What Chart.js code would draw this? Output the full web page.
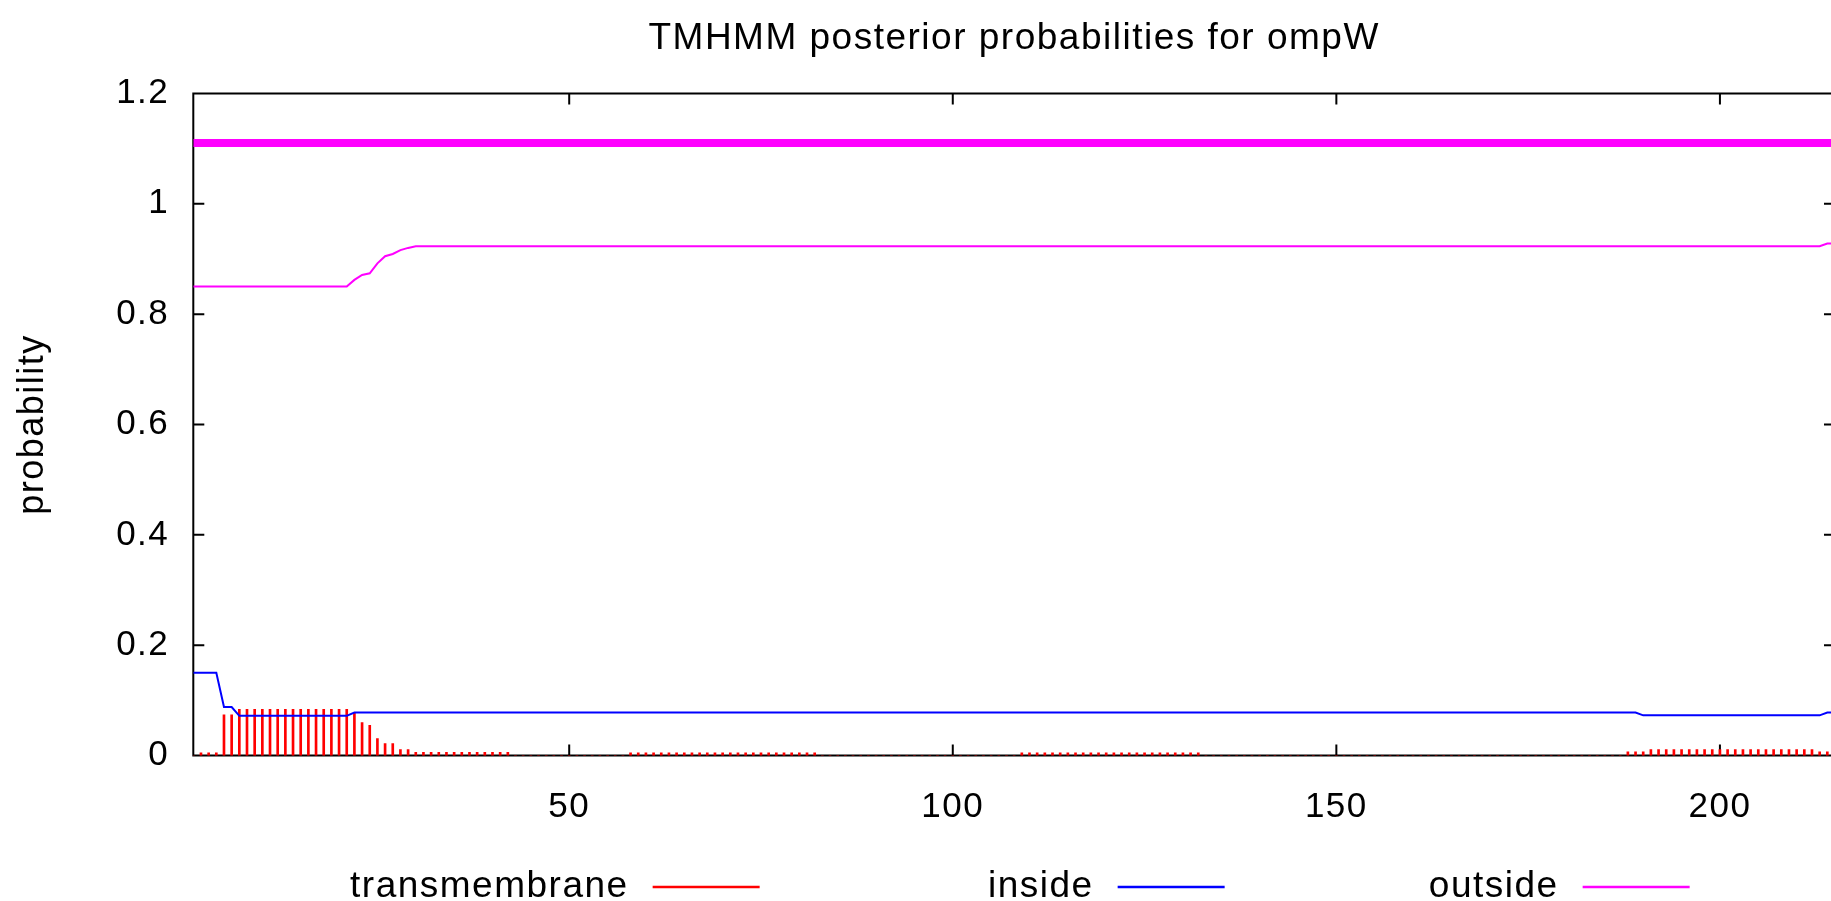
<!DOCTYPE html>
<html>
<head>
<meta charset="utf-8">
<script src="https://cdn.jsdelivr.net/npm/chart.js@4.4.1/dist/chart.umd.min.js"></script>
<style>
html,body{margin:0;padding:0;background:#fff;overflow:hidden;width:1831px;height:901px}
#wrap{position:relative;width:1831px;height:901px;overflow:hidden;background:#fff}
canvas{display:block}
</style>
</head>
<body>
<div id="wrap"><canvas id="c" width="1838" height="901"></canvas></div>
<script>
const titleText = 'TMHMM posterior probabilities for ompW';
const yAxisTitle = 'probability';
const seriesNames = ['transmembrane', 'inside', 'outside'];

// residue positions
const positions = [
  1,2,3,4,5,6,7,8,9,10, 11,12,13,14,15,16,17,18,19,20,
  21,22,23,24,25,26,27,28,29,30, 31,32,33,34,35,36,37,38,39,40,
  41,42,43,44,45,46,47,48,49,50, 51,52,53,54,55,56,57,58,59,60,
  61,62,63,64,65,66,67,68,69,70, 71,72,73,74,75,76,77,78,79,80,
  81,82,83,84,85,86,87,88,89,90, 91,92,93,94,95,96,97,98,99,100,
  101,102,103,104,105,106,107,108,109,110, 111,112,113,114,115,116,117,118,119,120,
  121,122,123,124,125,126,127,128,129,130, 131,132,133,134,135,136,137,138,139,140,
  141,142,143,144,145,146,147,148,149,150, 151,152,153,154,155,156,157,158,159,160,
  161,162,163,164,165,166,167,168,169,170, 171,172,173,174,175,176,177,178,179,180,
  181,182,183,184,185,186,187,188,189,190, 191,192,193,194,195,196,197,198,199,200,
  201,202,203,204,205,206,207,208,209,210, 211,212,213,214,215
];

// transmembrane posterior (impulses)
const transmembrane = [
  0,0.005,0.005,0.005,0.074,0.074,0.084,0.084,0.084,0.084,          // 1-10
  0.084,0.084,0.084,0.084,0.084,0.084,0.084,0.084,0.084,0.084,      // 11-20
  0.084,0.077,0.060,0.055,0.031,0.022,0.022,0.011,0.011,0.006,      // 21-30
  0.006,0.006,0.006,0.006,0.006,0.006,0.006,0.006,0.006,0.006,      // 31-40
  0.006,0.006,0,0,0,0,0,0,0,0,                                      // 41-50
  0,0,0,0,0,0,0,0.005,0.005,0.005,                                  // 51-60
  0.005,0.005,0.005,0.005,0.005,0.005,0.005,0.005,0.005,0.005,      // 61-70
  0.005,0.005,0.005,0.005,0.005,0.005,0.005,0.005,0.005,0.005,      // 71-80
  0.005,0.005,0,0,0,0,0,0,0,0,                                      // 81-90
  0,0,0,0,0,0,0,0,0,0,                                              // 91-100
  0,0,0,0,0,0,0,0,0.005,0.005,                                      // 101-110
  0.005,0.005,0.005,0.005,0.005,0.005,0.005,0.005,0.005,0.005,      // 111-120
  0.005,0.005,0.005,0.005,0.005,0.005,0.005,0.005,0.005,0.005,      // 121-130
  0.005,0.005,0,0,0,0,0,0,0,0,                                      // 131-140
  0,0,0,0,0,0,0,0,0,0,                                              // 141-150
  0,0,0,0,0,0,0,0,0,0,                                              // 151-160
  0,0,0,0,0,0,0,0,0,0,                                              // 161-170
  0,0,0,0,0,0,0,0,0,0,                                              // 171-180
  0,0,0,0,0,0,0,0.007,0.007,0.007,                                  // 181-190
  0.011,0.011,0.011,0.011,0.011,0.011,0.011,0.011,0.011,0.011,      // 191-200
  0.011,0.011,0.011,0.011,0.011,0.011,0.011,0.011,0.011,0.011,      // 201-210
  0.011,0.011,0.007,0.007,0.005                                     // 211-215
];

// inside posterior
const inside = [
  0.15,0.15,0.15,0.15,0.088,0.088,0.072,0.072,0.072,0.072,          // 1-10
  0.072,0.072,0.072,0.072,0.072,0.072,0.072,0.072,0.072,0.072,      // 11-20
  0.072,0.078,0.078,0.078,0.078,0.078,0.078,0.078,0.078,0.078,      // 21-30
  0.078,0.078,0.078,0.078,0.078,0.078,0.078,0.078,0.078,0.078,      // 31-40
  0.078,0.078,0.078,0.078,0.078,0.078,0.078,0.078,0.078,0.078,      // 41-50
  0.078,0.078,0.078,0.078,0.078,0.078,0.078,0.078,0.078,0.078,      // 51-60
  0.078,0.078,0.078,0.078,0.078,0.078,0.078,0.078,0.078,0.078,      // 61-70
  0.078,0.078,0.078,0.078,0.078,0.078,0.078,0.078,0.078,0.078,      // 71-80
  0.078,0.078,0.078,0.078,0.078,0.078,0.078,0.078,0.078,0.078,      // 81-90
  0.078,0.078,0.078,0.078,0.078,0.078,0.078,0.078,0.078,0.078,      // 91-100
  0.078,0.078,0.078,0.078,0.078,0.078,0.078,0.078,0.078,0.078,      // 101-110
  0.078,0.078,0.078,0.078,0.078,0.078,0.078,0.078,0.078,0.078,      // 111-120
  0.078,0.078,0.078,0.078,0.078,0.078,0.078,0.078,0.078,0.078,      // 121-130
  0.078,0.078,0.078,0.078,0.078,0.078,0.078,0.078,0.078,0.078,      // 131-140
  0.078,0.078,0.078,0.078,0.078,0.078,0.078,0.078,0.078,0.078,      // 141-150
  0.078,0.078,0.078,0.078,0.078,0.078,0.078,0.078,0.078,0.078,      // 151-160
  0.078,0.078,0.078,0.078,0.078,0.078,0.078,0.078,0.078,0.078,      // 161-170
  0.078,0.078,0.078,0.078,0.078,0.078,0.078,0.078,0.078,0.078,      // 171-180
  0.078,0.078,0.078,0.078,0.078,0.078,0.078,0.078,0.078,0.073,      // 181-190
  0.073,0.073,0.073,0.073,0.073,0.073,0.073,0.073,0.073,0.073,      // 191-200
  0.073,0.073,0.073,0.073,0.073,0.073,0.073,0.073,0.073,0.073,      // 201-210
  0.073,0.073,0.073,0.078,0.078                                     // 211-215
];

// outside posterior
const outside = [
  0.85,0.85,0.85,0.85,0.85,0.85,0.85,0.85,0.85,0.85,                // 1-10
  0.85,0.85,0.85,0.85,0.85,0.85,0.85,0.85,0.85,0.85,                // 11-20
  0.85,0.862,0.871,0.874,0.892,0.905,0.909,0.916,0.92,0.923,        // 21-30
  0.923,0.923,0.923,0.923,0.923,0.923,0.923,0.923,0.923,0.923,      // 31-40
  0.923,0.923,0.923,0.923,0.923,0.923,0.923,0.923,0.923,0.923,      // 41-50
  0.923,0.923,0.923,0.923,0.923,0.923,0.923,0.923,0.923,0.923,      // 51-60
  0.923,0.923,0.923,0.923,0.923,0.923,0.923,0.923,0.923,0.923,      // 61-70
  0.923,0.923,0.923,0.923,0.923,0.923,0.923,0.923,0.923,0.923,      // 71-80
  0.923,0.923,0.923,0.923,0.923,0.923,0.923,0.923,0.923,0.923,      // 81-90
  0.923,0.923,0.923,0.923,0.923,0.923,0.923,0.923,0.923,0.923,      // 91-100
  0.923,0.923,0.923,0.923,0.923,0.923,0.923,0.923,0.923,0.923,      // 101-110
  0.923,0.923,0.923,0.923,0.923,0.923,0.923,0.923,0.923,0.923,      // 111-120
  0.923,0.923,0.923,0.923,0.923,0.923,0.923,0.923,0.923,0.923,      // 121-130
  0.923,0.923,0.923,0.923,0.923,0.923,0.923,0.923,0.923,0.923,      // 131-140
  0.923,0.923,0.923,0.923,0.923,0.923,0.923,0.923,0.923,0.923,      // 141-150
  0.923,0.923,0.923,0.923,0.923,0.923,0.923,0.923,0.923,0.923,      // 151-160
  0.923,0.923,0.923,0.923,0.923,0.923,0.923,0.923,0.923,0.923,      // 161-170
  0.923,0.923,0.923,0.923,0.923,0.923,0.923,0.923,0.923,0.923,      // 171-180
  0.923,0.923,0.923,0.923,0.923,0.923,0.923,0.923,0.923,0.923,      // 181-190
  0.923,0.923,0.923,0.923,0.923,0.923,0.923,0.923,0.923,0.923,      // 191-200
  0.923,0.923,0.923,0.923,0.923,0.923,0.923,0.923,0.923,0.923,      // 201-210
  0.923,0.923,0.923,0.928,0.928                                     // 211-215
];

// predicted topology bar (whole sequence outside)
const topologyX = [1, 215];
const topologyY = [1.11, 1.11];

const xTicks = [50, 100, 150, 200];
const xTickLabels = ['50', '100', '150', '200'];
const yTicks = [0, 0.2, 0.4, 0.6, 0.8, 1, 1.2];
const yTickLabels = ['0', '0.2', '0.4', '0.6', '0.8', '1', '1.2'];

const FONT = '"Liberation Sans", Arial, Helvetica, sans-serif';
const LS = '1.5px';

const spacingPlugin = {
  id: 'spacing',
  beforeUpdate(c) { c.ctx.letterSpacing = LS; },
  beforeLayout(c) { c.ctx.letterSpacing = LS; },
  beforeDraw(c) { c.ctx.letterSpacing = LS; }
};

const framePlugin = {
  id: 'frame',
  beforeDatasetsDraw(c) {
    const {ctx, chartArea: a, scales} = c;
    const tl = 11;
    ctx.save();
    ctx.strokeStyle = '#000';
    ctx.lineWidth = 2;
    ctx.beginPath();
    ctx.rect(a.left, a.top, a.right - a.left, a.bottom - a.top);
    yTicks.forEach(v => {
      const py = scales.y.getPixelForValue(v);
      ctx.moveTo(a.left, py); ctx.lineTo(a.left + tl, py);
      ctx.moveTo(a.right, py); ctx.lineTo(a.right - tl, py);
    });
    xTicks.forEach(v => {
      const px = scales.x.getPixelForValue(v);
      ctx.moveTo(px, a.bottom); ctx.lineTo(px, a.bottom - tl);
      ctx.moveTo(px, a.top); ctx.lineTo(px, a.top + tl);
    });
    ctx.stroke();
    ctx.restore();
  }
};

const keyPlugin = {
  id: 'keyLegend',
  afterDraw(c) {
    const {ctx, chartArea: a} = c;
    const colW = 465, lineLen = 107, endGap = 22, textGap = 24, yy = 887;
    const n = seriesNames.length;
    const cx = (a.left + a.right) / 2;
    const left = cx - n * colW / 2;
    ctx.save();
    ctx.letterSpacing = LS;
    ctx.font = '37px ' + FONT;
    ctx.textAlign = 'right';
    ctx.textBaseline = 'middle';
    for (let i = 0; i < n; i++) {
      const ds = c.data.datasets[i];
      const right = left + colW * (i + 1);
      const le = right - endGap, ls = le - lineLen;
      ctx.fillStyle = '#000';
      ctx.fillText(ds.label, ls - textGap, yy);
      ctx.strokeStyle = ds.borderColor;
      ctx.lineWidth = 2.5;
      ctx.beginPath();
      ctx.moveTo(ls, yy); ctx.lineTo(le, yy);
      ctx.stroke();
    }
    ctx.restore();
  }
};

const pts = arr => positions.map((p, i) => ({x: p, y: arr[i]}));

new Chart(document.getElementById('c').getContext('2d'), {
  type: 'bar',
  data: {
    datasets: [
      {type: 'bar', label: seriesNames[0], data: pts(transmembrane),
       backgroundColor: '#ff0000', borderColor: '#ff0000', borderWidth: 0,
       barThickness: 2, grouped: false, order: 3},
      {type: 'line', label: seriesNames[1], data: pts(inside),
       borderColor: '#0000ff', borderWidth: 2, pointRadius: 0, tension: 0, fill: false, order: 2},
      {type: 'line', label: seriesNames[2], data: pts(outside),
       borderColor: '#ff00ff', borderWidth: 2, pointRadius: 0, tension: 0, fill: false, order: 1},
      {type: 'line', label: 'topology', data: topologyX.map((p, i) => ({x: p, y: topologyY[i]})),
       borderColor: '#ff00ff', borderWidth: 8, pointRadius: 0, tension: 0, fill: false, order: 0}
    ]
  },
  options: {
    responsive: false,
    animation: false,
    devicePixelRatio: 1,
    layout: {padding: {top: 0, left: 0, right: 3, bottom: 60}},
    plugins: {
      legend: {display: false},
      tooltip: {enabled: false},
      title: {
        display: true, text: titleText, fullSize: false, color: '#000',
        font: {family: FONT, size: 37, weight: 'normal'},
        padding: {top: 16.3, bottom: 32.7}
      }
    },
    scales: {
      x: {
        type: 'linear', min: 1, max: 215, offset: false,
        grid: {display: false, drawTicks: false},
        border: {display: false},
        ticks: {autoSkip: false, maxRotation: 0, padding: 31, color: '#000',
                font: {family: FONT, size: 35}, callback: (v, i) => xTickLabels[i]},
        afterBuildTicks: s => { s.ticks = xTicks.map(v => ({value: v})); },
        afterFit: s => { s.height = 85.4; }
      },
      y: {
        type: 'linear', min: 0, max: 1.2,
        grid: {display: false, drawTicks: false},
        border: {display: false},
        ticks: {padding: 24, color: '#000', font: {family: FONT, size: 35},
                callback: (v, i) => yTickLabels[i]},
        afterBuildTicks: s => { s.ticks = yTicks.map(v => ({value: v})); },
        afterFit: s => { s.width = 193.3; },
        title: {display: true, text: yAxisTitle, color: '#000',
                font: {family: FONT, size: 36}, padding: {top: 11, bottom: 0}}
      }
    }
  },
  plugins: [spacingPlugin, framePlugin, keyPlugin]
});
</script>
</body>
</html>
